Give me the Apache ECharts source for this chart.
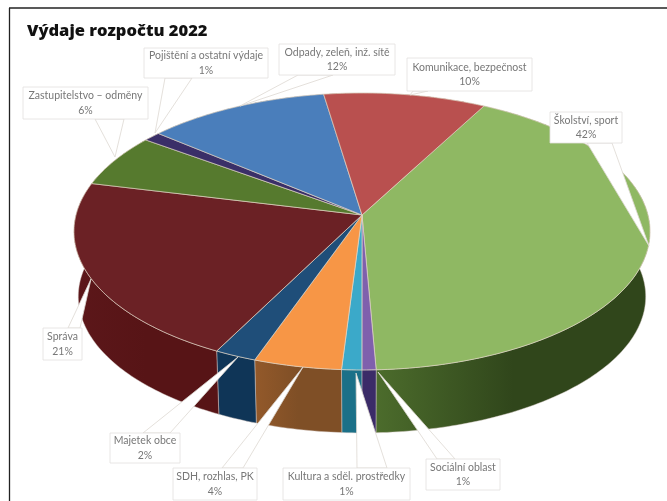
<!DOCTYPE html>
<html><head><meta charset="utf-8">
<style>html,body{margin:0;padding:0;background:#fff}#c{width:667px;height:501px}</style>
<script src="https://cdn.jsdelivr.net/npm/echarts@6/dist/echarts.min.js"></script>
</head><body><div id="c"></div>
<script>
var categories=["Školství, sport","Sociální oblast","Kultura a sděl. prostředky","SDH, rozhlas, PK","Majetek obce","Správa","Zastupitelstvo – odměny","Pojištění a ostatní výdaje","Odpady, zeleň, inž. sítě","Komunikace, bezpečnost"];
var shares=[41.5,0.7,1.0,4.4,2.1,21.3,6.2,1.1,11.5,10.2];
var topColors=["#8FB863","#7F60AD","#3BA9C9","#F79646","#1F4E79","#6B2125","#567A2E","#3A2F68","#4A7EBB","#B9504F"];
var wallFrom=["#4c6c2c","#3b2b68","#1b7088","#93592a","#0f3557","#5c171a","#3c5620","#2a2050","#2f5a8c","#7d3332"];
var wallTo=["#30461b","#3b2b68","#1b7088","#7f4f26","#0f3557","#571416","#3c5620","#2a2050","#2f5a8c","#7d3332"];
// projection of the pie disc
var P={cx:362,cy:215,A:286,B:136.5,k:0.119,drop:65.3,shrink:0.985,start:28.1};
function project(deg,lower){
  var t=deg*Math.PI/180,X=Math.sin(t),Y=-Math.cos(t),w=1-P.k*Y;
  var dx=P.A*X/w,dy=P.B*Y/w;
  return lower?[P.cx+dx*P.shrink,P.cy+P.drop+dy*P.shrink]:[P.cx+dx,P.cy+dy];
}
var total=shares.reduce(function(a,b){return a+b},0);
function span(i){
  var s=P.start;for(var j=0;j<i;j++)s+=shares[j]/total*360;
  return [s,s+shares[i]/total*360];
}
function rim(a,b,lower){
  var pts=[],n=Math.max(2,Math.ceil((b-a)));
  for(var i=0;i<=n;i++)pts.push(project(a+(b-a)*i/n,lower));
  return pts;
}
function renderWall(params){
  var i=params.dataIndex,s=span(i);
  var pts=rim(s[0],s[1],false).concat(rim(s[0],s[1],true).reverse());
  return {type:'polygon',shape:{points:pts},style:{
    fill:{type:'linear',x:0,y:0,x2:1,y2:0,colorStops:[{offset:0,color:wallFrom[i]},{offset:0.5,color:wallTo[i]},{offset:1,color:wallTo[i]}]},
    stroke:'rgba(215,205,200,0.65)',lineWidth:0.7}};
}
function renderTop(params){
  var i=params.dataIndex,s=span(i);
  var pts=[[P.cx,P.cy]].concat(rim(s[0],s[1],false));
  return {type:'polygon',shape:{points:pts},style:{fill:topColors[i],stroke:'rgba(226,214,196,0.85)',lineWidth:0.8}};
}
// callouts: label box [x0,y0,x1,y1] and pointer [baseA,baseB,tip]
var boxes=[[550,112,622,143],[426,459,500,490],[283,468,410,500],[173,468,257,500],[110,433,180,463],[43,328,82,360],[23,87,148,119],[144,48,268,78],[279,44,395,75],[407,58,532,91]];
var pointers=[[[587,143],[612,143],[649,246]],[[437,459],[455,459],[378,372]],[[357,468],[387,468],[356,373]],[[222,468],[243,468],[303,367]],[[143,433],[170,433],[238,357]],[[68,328],[80,328],[91,279]],[[95,119],[124,119],[115,157]],[[165,78],[192,78],[155,133]],[[298,75],[333,75],[240,106]],[[413,91],[428,91],[410,95]]];
var graphics=[
 {type:'text',z:20,style:{x:27,y:22.5,text:'Výdaje rozpočtu 2022',fill:'#111',font:'800 16.5px "Open Sans"'}},
 {type:'line',z:1,shape:{x1:9,y1:8,x2:667,y2:8},style:{stroke:'#222',lineWidth:1.3}},
 {type:'line',z:1,shape:{x1:9.5,y1:8,x2:9.5,y2:501},style:{stroke:'#222',lineWidth:1.3}}
];
categories.forEach(function(name,i){
  var b=boxes[i],p=pointers[i];
  graphics.push({type:'polygon',z:10,shape:{points:p},style:{fill:'#fff',stroke:'#ddd8d2',lineWidth:0.8}});
  graphics.push({type:'rect',z:11,shape:{x:b[0],y:b[1],width:b[2]-b[0],height:b[3]-b[1]},style:{fill:'#fff',stroke:'#e2e0de',lineWidth:0.8}});
  graphics.push({type:'text',z:12,style:{x:(b[0]+b[2])/2,y:(b[1]+b[3])/2,text:name+'\n'+Math.round(shares[i])+'%',align:'center',verticalAlign:'middle',lineHeight:14.5,fill:'#777',font:'10.5px Lato'}});
});
var chart=echarts.init(document.getElementById('c'),null,{renderer:'canvas'});
chart.setOption({
  animation:false,
  graphic:{elements:graphics},
  series:[
    {type:'custom',coordinateSystem:'none',z:3,silent:true,data:shares,renderItem:renderWall},
    {type:'custom',coordinateSystem:'none',z:4,silent:true,data:shares,renderItem:renderTop}
  ]
});
</script></body></html>
